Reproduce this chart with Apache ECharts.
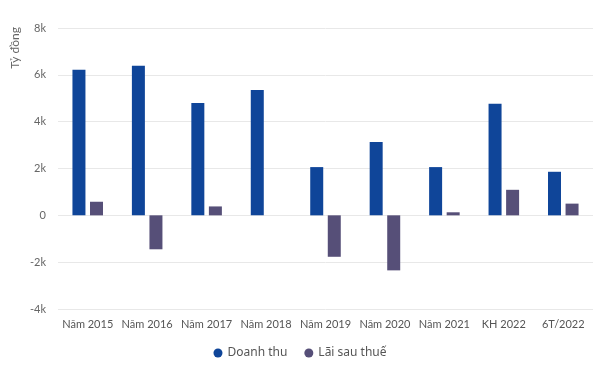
<!DOCTYPE html>
<html>
<head>
<meta charset="utf-8">
<script src="https://cdn.jsdelivr.net/npm/echarts@6/dist/echarts.min.js"></script>
<style>html,body{margin:0;padding:0;background:#fff;}#c{width:600px;height:369px;}</style>
</head>
<body>
<div id="c"></div>
<script>
const categories = ['Năm 2015','Năm 2016','Năm 2017','Năm 2018','Năm 2019','Năm 2020','Năm 2021','KH 2022','6T/2022'];
const doanhThu = [6220, 6390, 4800, 5350, 2060, 3130, 2060, 4760, 1860];
const laiSauThue = [580, -1450, 380, null, -1770, -2350, 130, 1090, 500];
const seriesNames = ['Doanh thu', 'Lãi sau thuế'];
const yAxisName = 'Tỷ đồng';

const chart = echarts.init(document.getElementById('c'));
const font = 'Lato, "Noto Sans", sans-serif';
chart.setOption({
  animation: false,
  grid: { left: 58, right: 7, top: 28, bottom: 60, containLabel: false },
  graphic: [{
    type: 'text', left: 9, top: 27, rotation: Math.PI / 2,
    style: { text: yAxisName, fill: '#666', font: '12px ' + font }
  }],
  legend: {
    top: 342, left: 'center', itemWidth: 9, itemHeight: 9, itemGap: 17,
    icon: 'circle',
    textStyle: { color: '#555', fontSize: 12, fontFamily: '"Noto Sans", sans-serif' },
    data: seriesNames
  },
  xAxis: {
    type: 'category', data: categories,
    axisLine: { show: false }, axisTick: { show: false },
    axisLabel: { color: '#555', fontSize: 11, fontFamily: font, margin: 10, interval: 0 }
  },
  yAxis: {
    type: 'value', min: -4000, max: 8000, interval: 2000,
    axisLabel: {
      color: '#666', fontSize: 11, fontFamily: font, margin: 12,
      formatter: v => v === 0 ? '0' : (v / 1000) + 'k'
    },
    splitLine: { lineStyle: { color: '#e8e8e8' } },
    axisLine: { show: false }, axisTick: { show: false }
  },
  series: [
    { name: seriesNames[0], type: 'bar', data: doanhThu, barWidth: 13, barGap: '35%',
      itemStyle: { color: '#0f4599' } },
    { name: seriesNames[1], type: 'bar', data: laiSauThue, barWidth: 13,
      itemStyle: { color: '#564f78' } }
  ]
});
</script>
</body>
</html>
